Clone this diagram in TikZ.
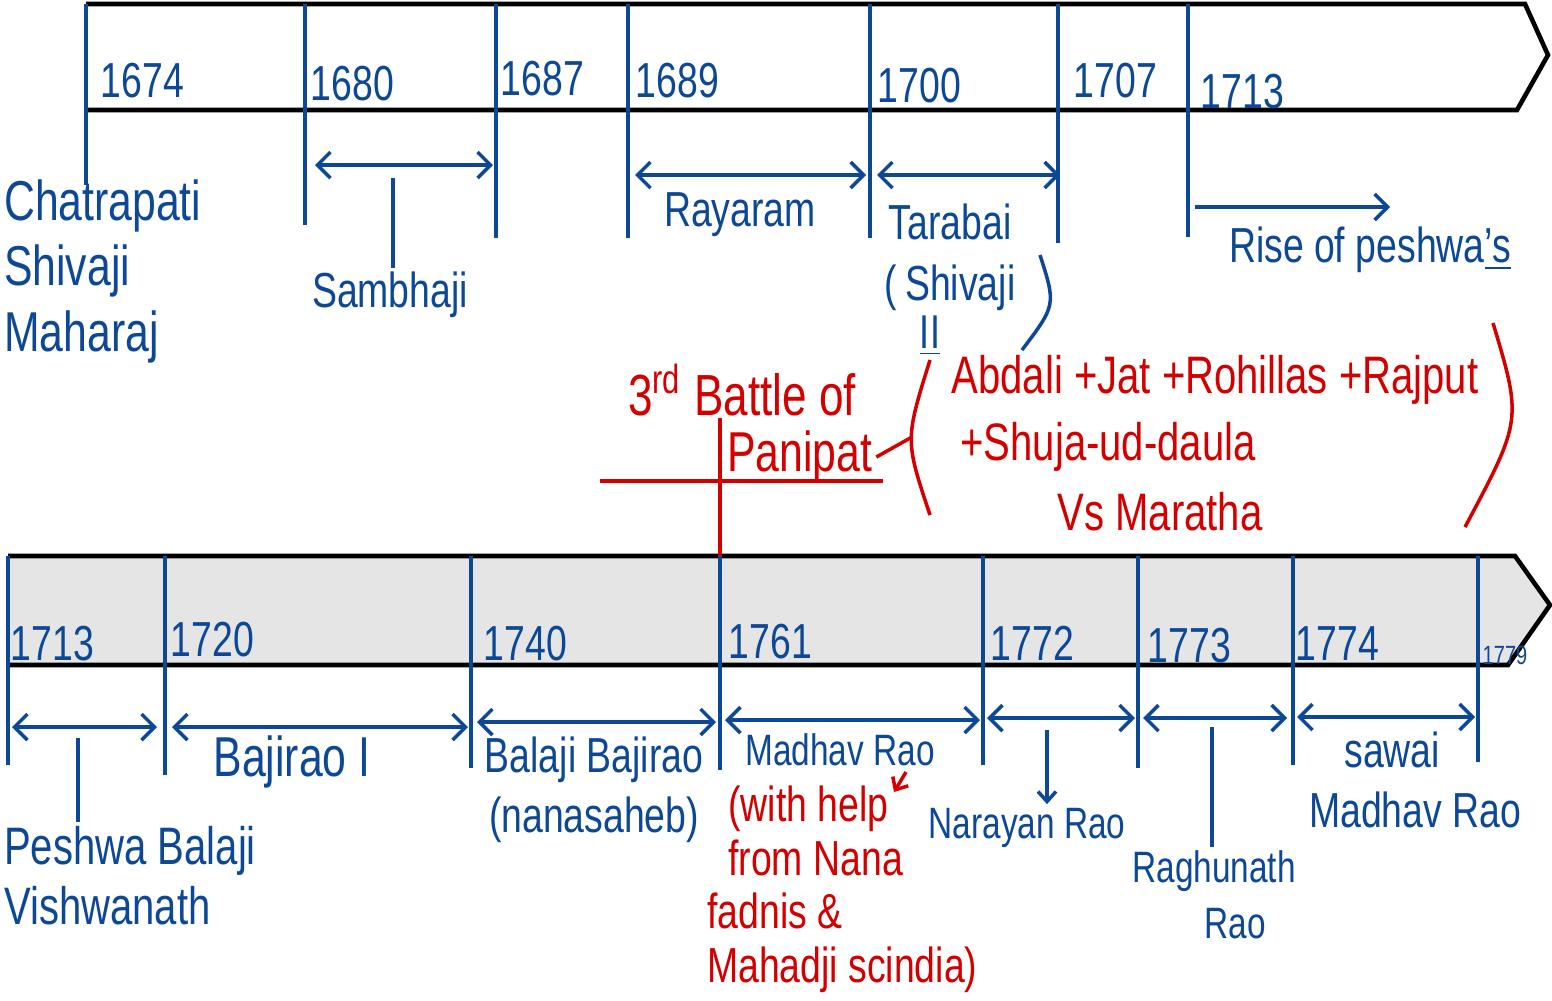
\documentclass[tikz,border=0pt]{standalone}
\usepackage{fontspec}
\setmainfont[FakeStretch=0.76]{Liberation Sans}
\usetikzlibrary{arrows.meta}
\definecolor{penblue}{RGB}{12,72,150}
\definecolor{penred}{RGB}{212,0,0}
\definecolor{band}{RGB}{229,229,229}
\tikzset{
	bar/.style={line width=1.3pt,black},
	tick/.style={line width=1pt,penblue},
	barb/.tip={Straight Barb[length=1.3mm,width=2.6mm,line width=1pt]},
	span/.style={tick,barb-barb},
	yr/.style={penblue,font=\fontsize{14}{16}\selectfont,anchor=base west,inner sep=0pt},
	lbl/.style={penblue,font=\fontsize{14}{17}\selectfont,align=left,inner sep=1pt},
	note/.style={penred,font=\fontsize{15}{17}\selectfont,align=left,inner sep=1pt},
	redline/.style={line width=1pt,penred},
}

\begin{document}
\begin{tikzpicture}[x=0.1mm,y=-0.1mm]
	\useasboundingbox (0,0) rectangle (1552,1000);
	% upper band
	\draw[bar,fill=white] (86,4) -- (1525,4) -- (1548,55) -- (1517,110) -- (86,110);
			\foreach \x/\b in {86/185,305/225,496/238,628/238,870/238,1058/243,1188/237}
				\draw[tick] (\x,4) coordinate (tt\x) -- (\x,\b);
			\foreach \x/\y/\t in {100/97/1674,310/100/1680,500/95/1687,635/97/1689,877/102/1700,1073/97/1707,1200/108/1713}
				\node[yr] (a\t) at (\x,\y) {\t};
			\foreach \a/\b/\y in {315/493/165,635/866/175,877/1060/175}
				\draw[span] (\a,\y) -- (\b,\y);
			\draw[tick,-barb] (1195,207) -- (1390,207);

	\node[lbl,anchor=north west,font=\fontsize{16}{18.5}\selectfont] (shivaji) at (0,176) {Chatrapati\\Shivaji\\Maharaj};
	\node[lbl] (sambhaji) at (390,295) {Sambhaji};
	\coordinate (sbtop) at (393,178);
	\draw[tick] (sbtop) -- (sbtop |- sambhaji.north);
	\node[lbl] (rajaram) at (740,215) {Rayaram};
	\node[lbl] (tarabai) at (950,222) {Tarabai};
	\node[lbl] (shivajiii) at (950,288) {(\,Shivaji};
	\node[lbl,font=\fontsize{13.5}{15}\selectfont] (second) at (930,336) {\underline{II}};
	\draw[tick] (1040,255) .. controls (1056,305) .. (1022,350);
	\node[lbl] (rise) at (1370,250) {Rise of peshwa\underline{'s}};

	% panipat
	\node[note,font=\fontsize{16.5}{19}\selectfont] (battle) at (742,390) {3\textsuperscript{rd} Battle of};
	\node[note,anchor=west,font=\fontsize{16}{18}\selectfont] (panipat) at (723,457) {Panipat};
	\draw[redline] (600,481) -- (883,481);
	\node[note] (allies) at (1215,380) {Abdali +Jat +Rohillas +Rajput};
	\node[note] (shuja) at (1108,447) {+Shuja-ud-daula};
	\node[note] (vs) at (1160,512) {Vs Maratha};
	\draw[redline] (930,360) .. controls (905,440) .. (930,515);
	\draw[redline] (1493,323) .. controls (1522,420) .. (1465,527);
	\draw[redline] (panipat.east) -- (912,437);

	% lower band
	\draw[bar,fill=band] (8,556) -- (1515,556) -- (1550,605) -- (1508,665) -- (8,665);
			\foreach \x/\b in {8/765,165/775,471/768,720/770,983/765,1138/768,1293/765,1478/762}
				\draw[tick] (\x,556) coordinate (bt\x) -- (\x,\b);
			\foreach \x/\y/\t in {10/660/1713,170/656/1720,483/660/1740,728/658/1761,990/660/1772,1147/662/1773,1295/660/1774}
				\node[yr] (b\t) at (\x,\y) {\t};
			\node[yr,font=\fontsize{7.5}{9}\selectfont] (b1779) at (1482,664) {1779};
			\foreach \a/\b/\y in {12/157/727,172/468/727,477/716/722,725/980/720,987/1135/718,1143/1287/718,1297/1475/717}
				\draw[span] (\a,\y) -- (\b,\y);
	\draw[redline] (720,418) -- (bt720);

	\node[lbl,anchor=north west,font=\fontsize{15}{17}\selectfont] (vishwanath) at (0,822) {Peshwa Balaji\\Vishwanath};
	\coordinate (pbtop) at (78,738);
	\draw[tick] (pbtop) -- (pbtop |- vishwanath.north);
	\node[lbl,font=\fontsize{16}{18}\selectfont] (bajirao) at (292,762) {Bajirao I};
	\node[lbl,align=center] (nanasaheb) at (594,790) {Balaji Bajirao\\(nanasaheb)};
	\node[lbl,font=\fontsize{12.5}{15}\selectfont] (madhav) at (840,750) {Madhav Rao};
	\node[note,anchor=north west,font=\fontsize{14}{15.2}\selectfont] (help) at (703,782)
		{\hspace{6pt}(with help\\\hspace{6pt}from Nana\\fadnis \&\\Mahadji scindia)};
	\coordinate (hp) at (906,772);
	\draw[redline,-{Straight Barb[length=1mm,width=1.8mm]}] (hp) -- ++(-12,20);
	\node[lbl,font=\fontsize{12.5}{15}\selectfont] (narayan) at (1027,828) {Narayan Rao};
	\coordinate (nrtop) at (1047,730);
	\draw[tick,-{Straight Barb[length=1mm,width=1.8mm]}] (nrtop) -- (nrtop |- narayan.north);
	\node[lbl,align=center,font=\fontsize{12.5}{16}\selectfont] (raghunath) at (1214,895) {Raghunath\\\hspace{12pt}Rao};
	\coordinate (rgtop) at (1212,727);
	\draw[tick] (rgtop) -- (rgtop |- raghunath.north);
	\node[lbl,anchor=north west] (sawai) at (1305,728) {\hspace{10pt}sawai\\Madhav Rao};
\end{tikzpicture}
\end{document}
